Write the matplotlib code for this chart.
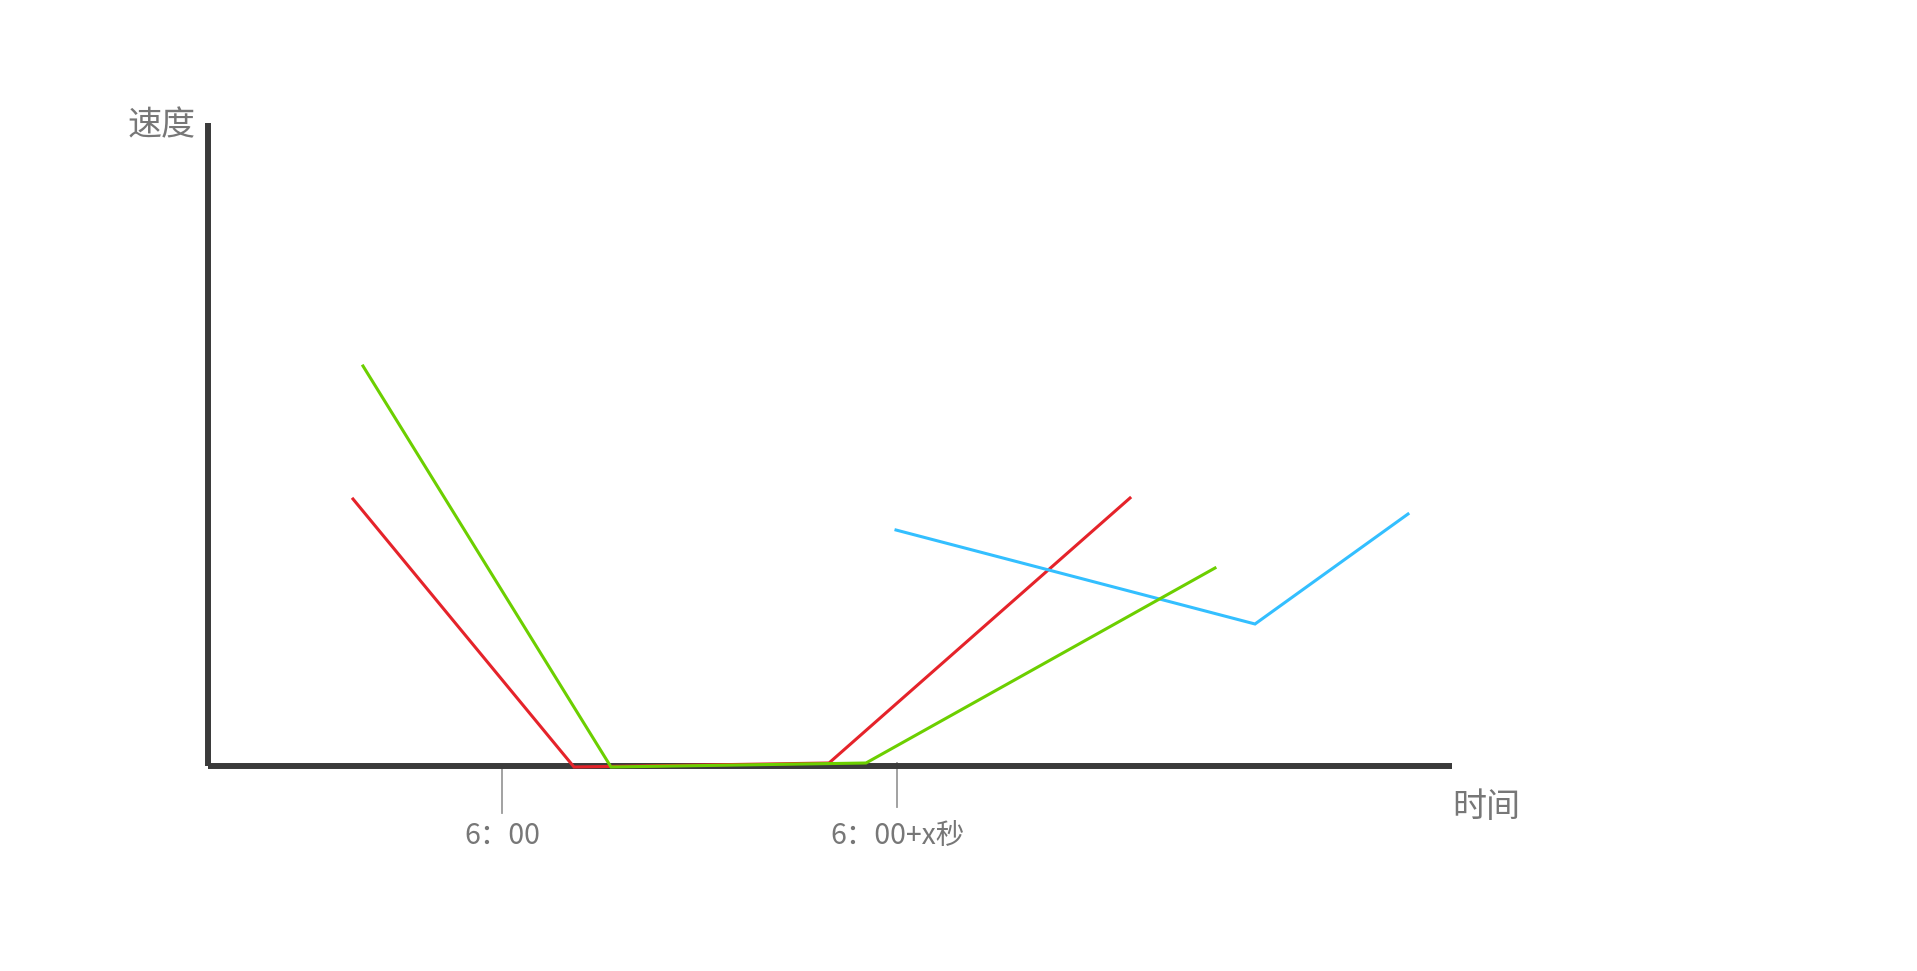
import matplotlib
matplotlib.use("Agg")
import matplotlib.pyplot as plt

plt.rcParams['font.family'] = ['Noto Sans CJK SC', 'DejaVu Sans']

# Data (units: axis-origin based, arbitrary speed/time units)
red_x = [145.5, 366.5, 621.5, 922.5]
red_y = [267, -1, 3, 268]
green_x = [155.5, 403.5, 658.5, 1007.5]
green_y = [400, -1, 3, 198]
blue_x = [688.5, 1047.5, 1200.5]
blue_y = [236, 142, 252]

tick_pos = [294.5, 689.5]
tick_labels = ["6：00", "6：00+x秒"]
tick_len = [47, 44]
tick_offset = [0, 3]

W, H = 1917, 971
fig = plt.figure(figsize=(W / 100, H / 100), dpi=100)
x0, y0, x1, y1 = 207.5, 766, 1452, 123
ax = fig.add_axes([x0 / W, (H - y0) / H, (x1 - x0) / W, (y0 - y1) / H])
ax.set_xlim(0, x1 - x0)
ax.set_ylim(0, y0 - y1)

for s in ['top', 'right']:
    ax.spines[s].set_visible(False)
for s in ['left', 'bottom']:
    ax.spines[s].set_color('#3a3a3a')
    ax.spines[s].set_linewidth(4.3)
    ax.spines[s].set_capstyle('butt')
ax.set_xticks([])
ax.set_yticks([])

lw = 2.2
ax.plot(red_x, red_y, color='#e5232a', lw=lw, clip_on=False, zorder=3, solid_joinstyle='miter')
ax.plot(green_x, green_y, color='#6ccf00', lw=lw, clip_on=False, zorder=4, solid_joinstyle='miter')
ax.plot(blue_x, blue_y, color='#33bfff', lw=lw, clip_on=False, zorder=3, solid_joinstyle='miter')

for p, lab, ln, off in zip(tick_pos, tick_labels, tick_len, tick_offset):
    ax.plot([p, p], [off, off - ln], color='#9a9a9a', lw=1.3, clip_on=False, zorder=1)
    ax.text(p, -70, lab, ha='center', va='center', fontsize=20.5, color='#777777')

ax.text(-46, y0 - y1 - 3, "速度", ha='center', va='center', fontsize=24.5, color='#777777')
ax.text(1486 - x0, -41, "时间", ha='center', va='center', fontsize=24.5, color='#777777')

fig.savefig("out.png", dpi=100)
